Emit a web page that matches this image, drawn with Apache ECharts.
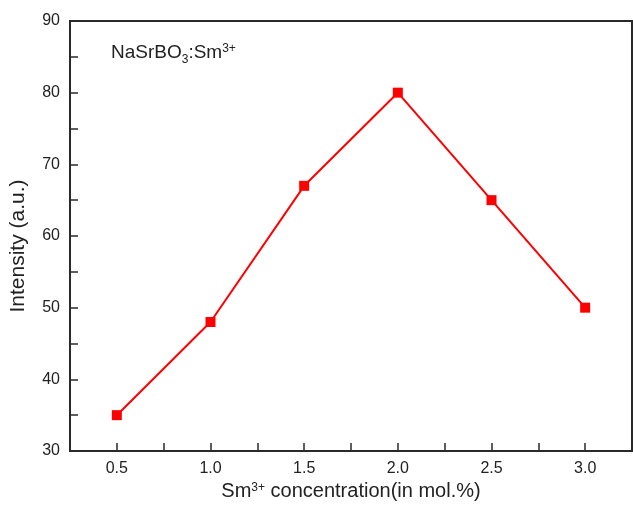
<!DOCTYPE html>
<html><head><meta charset="utf-8">
<script src="https://cdn.jsdelivr.net/npm/echarts@6/dist/echarts.min.js"></script>
<style>html,body{margin:0;padding:0;background:#fff}#c{width:633px;height:505px}</style>
</head><body><div id="c"></div>
<script>
const concentrations = [0.5, 1.0, 1.5, 2.0, 2.5, 3.0];
const intensities = [35, 48, 67, 80, 65, 50];
const xTicks = [0.5, 1.0, 1.5, 2.0, 2.5, 3.0];
const yTicks = [30, 40, 50, 60, 70, 80, 90];

const chart = echarts.init(document.getElementById('c'));
const font = 'Liberation Sans, Arial, sans-serif';
chart.setOption({
  animation: false,
  grid: {left: 70, top: 21, right: 1, bottom: 54, show: true, borderColor: '#2a2a2a', borderWidth: 2,
         outerBoundsMode: 'none', containLabel: false},
  xAxis: {
    type: 'value', min: 0.25, max: 3.25, interval: 0.25,
    axisLine: {show: true, lineStyle: {color: '#2a2a2a', width: 2}},
    axisTick: {show: true, inside: true, length: 8, lineStyle: {color: '#2a2a2a', width: 1.5}},
    splitLine: {show: false},
    axisLabel: {
      color: '#222', fontSize: 16, fontFamily: font, margin: 10,
      formatter: v => xTicks.some(t => Math.abs(t - v) < 1e-6) ? v.toFixed(1) : ''
    },
    name: '{a|Sm}{s|3+}{a| concentration(in mol.%)}',
    nameLocation: 'middle', nameGap: 30,
    nameTextStyle: {rich: {
      a: {fontSize: 20, color: '#222', fontFamily: font},
      s: {fontSize: 12, color: '#222', fontFamily: font, verticalAlign: 'top'}
    }}
  },
  yAxis: {
    type: 'value', min: 30, max: 90, interval: 5,
    axisLine: {show: true, lineStyle: {color: '#2a2a2a', width: 2}},
    axisTick: {show: true, inside: true, length: 8, lineStyle: {color: '#2a2a2a', width: 1.5}},
    splitLine: {show: false},
    axisLabel: {
      color: '#222', fontSize: 16, fontFamily: font, margin: 10,
      formatter: v => yTicks.includes(v) ? String(v) : ''
    },
    name: 'Intensity (a.u.)', nameLocation: 'middle', nameGap: 41, nameRotate: 90,
    nameTextStyle: {fontSize: 21, color: '#222', fontFamily: font, padding: [0, 20, 0, 0]}
  },
  graphic: [{
    type: 'text', left: 111, top: 43,
    style: {
      text: '{a|NaSrBO}{b|3}{a|:Sm}{s|3+}',
      rich: {
        a: {fontSize: 19, fill: '#222', fontFamily: font},
        b: {fontSize: 12, fill: '#222', fontFamily: font, verticalAlign: 'bottom', padding: [0, 0, -4, 0]},
        s: {fontSize: 12, fill: '#222', fontFamily: font, verticalAlign: 'top'}
      }
    }
  }],
  series: [{
    type: 'line',
    data: concentrations.map((c, i) => [c, intensities[i]]),
    symbol: 'rect', symbolSize: 10,
    lineStyle: {color: '#ff0000', width: 2},
    itemStyle: {color: '#ff0000'}
  }]
});
</script></body></html>
